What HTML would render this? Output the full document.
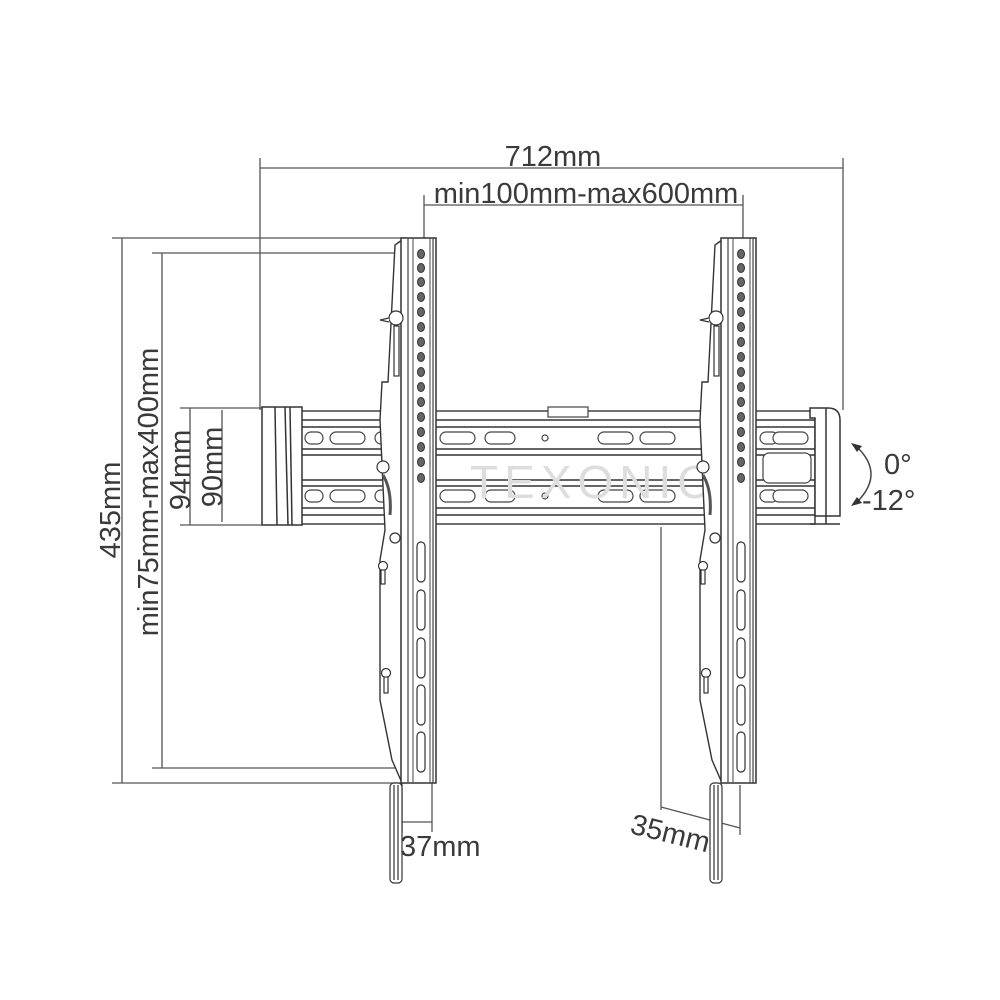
<!DOCTYPE html>
<html><head><meta charset="utf-8"><style>
html,body{margin:0;padding:0;background:#fff;width:1000px;height:1000px;overflow:hidden}
svg{display:block}
text{font-family:"Liberation Sans",sans-serif;fill:#3a3a3a}
</style></head><body>
<svg width="1000" height="1000" viewBox="0 0 1000 1000" xmlns="http://www.w3.org/2000/svg">
<g stroke="#555" stroke-width="1.3" fill="none">
<line x1="260" y1="158" x2="260" y2="410"/>
<line x1="843" y1="158" x2="843" y2="410"/>
<line x1="260" y1="168" x2="843" y2="168"/>
<line x1="424" y1="195" x2="424" y2="250"/>
<line x1="743" y1="195" x2="743" y2="250"/>
<line x1="424" y1="205" x2="743" y2="205"/>
<line x1="112" y1="238" x2="405" y2="238"/>
<line x1="112" y1="783" x2="405" y2="783"/>
<line x1="122" y1="238" x2="122" y2="783"/>
<line x1="152" y1="253" x2="420" y2="253"/>
<line x1="152" y1="768" x2="420" y2="768"/>
<line x1="162" y1="253" x2="162" y2="768"/>
<line x1="180" y1="408" x2="262" y2="408"/>
<line x1="180" y1="525" x2="262" y2="525"/>
<line x1="190" y1="408" x2="190" y2="525"/>
<line x1="222" y1="410" x2="222" y2="522"/>
<line x1="402" y1="783" x2="402" y2="832"/>
<line x1="432" y1="783" x2="432" y2="832"/>
<line x1="402" y1="822" x2="432" y2="822"/>
<line x1="661" y1="527" x2="661" y2="810"/>
<line x1="740" y1="785" x2="740" y2="835"/>
<line x1="661" y1="807" x2="740" y2="828"/>
</g>

<g stroke="#333" stroke-width="1.4" fill="#fff">
<rect x="300" y="411" width="515" height="113"/>
<line x1="300" y1="420" x2="815" y2="420"/>
<line x1="300" y1="427" x2="815" y2="427"/>
<line x1="300" y1="449" x2="815" y2="449"/>
<line x1="300" y1="455" x2="815" y2="455"/>
<line x1="300" y1="480" x2="815" y2="480"/>
<line x1="300" y1="486" x2="815" y2="486"/>
<line x1="300" y1="508" x2="815" y2="508"/>
<line x1="300" y1="515" x2="815" y2="515"/>
</g>
<g stroke="#444" stroke-width="1.2" fill="#fff">
<rect x="305" y="432" width="18" height="12" rx="6"/><rect x="330" y="432" width="35" height="12" rx="6"/><rect x="375" y="432" width="20" height="12" rx="6"/>
<rect x="440" y="432" width="35" height="12" rx="6"/><rect x="485" y="432" width="30" height="12" rx="6"/>
<rect x="598" y="432" width="35" height="12" rx="6"/><rect x="640" y="432" width="35" height="12" rx="6"/>
<rect x="760" y="432" width="18" height="12" rx="6"/><rect x="773" y="432" width="35" height="12" rx="6"/>
<rect x="305" y="490" width="18" height="12" rx="6"/><rect x="330" y="490" width="35" height="12" rx="6"/><rect x="375" y="490" width="20" height="12" rx="6"/>
<rect x="440" y="490" width="35" height="12" rx="6"/><rect x="485" y="490" width="30" height="12" rx="6"/>
<rect x="598" y="490" width="35" height="12" rx="6"/><rect x="640" y="490" width="35" height="12" rx="6"/>
<rect x="760" y="490" width="18" height="12" rx="6"/><rect x="773" y="490" width="35" height="12" rx="6"/>
<circle cx="545" cy="438" r="3"/><circle cx="545" cy="496" r="3"/>
<rect x="548" y="407" width="40" height="10"/>
<rect x="763" y="453" width="48" height="30" rx="6"/>
</g>
<g stroke="#333" stroke-width="1.5" fill="#fff">
<rect x="262" y="407" width="40" height="118"/>
<line x1="275" y1="407" x2="277" y2="525"/>
<line x1="285" y1="407" x2="288" y2="525"/>
<line x1="290" y1="407" x2="292" y2="525"/>
<path d="M815 418 L815 516 L840 516 L840 420 Q840 408 828 408 L810 408 L810 418 Z"/>
<line x1="826" y1="408" x2="826" y2="524"/>
<line x1="810" y1="524" x2="840" y2="524"/>
</g>
<text x="470" y="498" font-size="46" style="fill:#ddd" letter-spacing="6">TEXONIC</text>

<defs>
<g id="br">
<path d="M402 240 L395 245 L388 382 L382 382 L380 420 L385 530 L380 560 L380 700 L392 760 L402 783 Z" fill="#fff" stroke="#333" stroke-width="1.4"/>
<rect x="401" y="238" width="35" height="545" fill="#fff" stroke="#333" stroke-width="1.5"/>
<line x1="408" y1="238" x2="408" y2="783" stroke="#444" stroke-width="1.2"/>
<line x1="413" y1="238" x2="413" y2="783" stroke="#444" stroke-width="1"/>
<line x1="430" y1="238" x2="430" y2="783" stroke="#444" stroke-width="1"/>
<line x1="433" y1="238" x2="433" y2="783" stroke="#444" stroke-width="1.2"/>
<g fill="#666" stroke="#333" stroke-width="1">
<ellipse cx="421" cy="254" rx="3.5" ry="4.5"/><ellipse cx="421" cy="268" rx="3.5" ry="4.5"/><ellipse cx="421" cy="282" rx="3.5" ry="4.5"/><ellipse cx="421" cy="297" rx="3.5" ry="4.5"/>
<ellipse cx="421" cy="312" rx="3.5" ry="4.5"/><ellipse cx="421" cy="327" rx="3.5" ry="4.5"/><ellipse cx="421" cy="342" rx="3.5" ry="4.5"/><ellipse cx="421" cy="357" rx="3.5" ry="4.5"/>
<ellipse cx="421" cy="372" rx="3.5" ry="4.5"/><ellipse cx="421" cy="387" rx="3.5" ry="4.5"/><ellipse cx="421" cy="402" rx="3.5" ry="4.5"/><ellipse cx="421" cy="417" rx="3.5" ry="4.5"/>
<ellipse cx="421" cy="432" rx="3.5" ry="4.5"/><ellipse cx="421" cy="447" rx="3.5" ry="4.5"/><ellipse cx="421" cy="462" rx="3.5" ry="4.5"/><ellipse cx="421" cy="478" rx="3.5" ry="4.5"/>
</g>
<g fill="#fff" stroke="#333" stroke-width="1.2">
<rect x="417" y="542" width="8" height="40" rx="4"/><rect x="417" y="590" width="8" height="40" rx="4"/><rect x="417" y="638" width="8" height="40" rx="4"/>
<rect x="417" y="685" width="8" height="40" rx="4"/><rect x="417" y="732" width="8" height="40" rx="4"/>
<circle cx="396" cy="318" r="7"/><path d="M389 318 L380 320 L389 322"/>
<rect x="394" y="326" width="5" height="50"/>
<circle cx="383" cy="467" r="6"/>
<path d="M383 475 Q392 490 390 515" stroke-width="3" stroke="#555"/>
<circle cx="395" cy="538" r="5"/><circle cx="383" cy="566" r="4.5"/><rect x="381" y="570" width="4" height="14"/>
<circle cx="386" cy="673" r="4.5"/><rect x="384" y="677" width="4" height="16"/>
<rect x="390" y="783" width="12" height="100" rx="4"/>
<line x1="394" y1="785" x2="394" y2="880"/><line x1="398" y1="785" x2="398" y2="880"/>
</g>
</g>
</defs>
<use href="#br"/>
<use href="#br" transform="translate(320,0)"/>

<path d="M857 447 Q885 474 857 502" fill="none" stroke="#444" stroke-width="1.5"/>
<path d="M851 443 L862 446 L857 452 Z" fill="#333"/>
<path d="M851 506 L862 503 L857 497 Z" fill="#333"/>

<g font-size="29">
<text x="553" y="166" text-anchor="middle">712mm</text>
<text x="586" y="203" text-anchor="middle">min100mm-max600mm</text>
<text transform="translate(120,510) rotate(-90)" text-anchor="middle">435mm</text>
<text transform="translate(158,492) rotate(-90)" text-anchor="middle">min75mm-max400mm</text>
<text transform="translate(190,470) rotate(-90)" text-anchor="middle">94mm</text>
<text transform="translate(222,467) rotate(-90)" text-anchor="middle">90mm</text>
<text x="400" y="856">37mm</text>
<text transform="translate(629,833) rotate(14)">35mm</text>
<text x="884" y="474">0°</text>
<text x="862" y="510">-12°</text>
</g>
</svg>
</body></html>
